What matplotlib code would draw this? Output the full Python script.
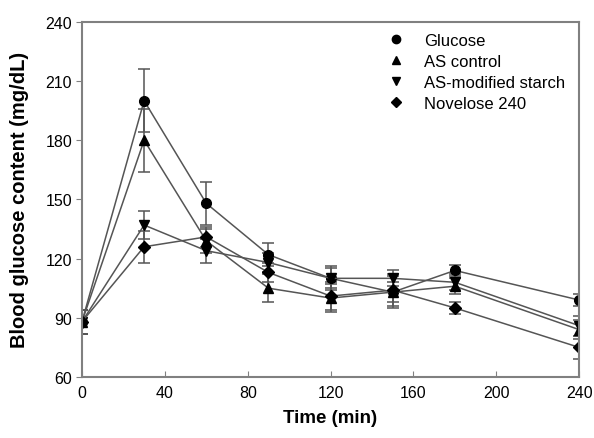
import numpy as np
import matplotlib.pyplot as plt
from matplotlib.lines import Line2D

plt.rcParams['font.family'] = ['Liberation Sans', 'DejaVu Sans']

# Time points (min)
time = [0, 30, 60, 90, 120, 150, 180, 240]

# Blood glucose means (mg/dL)
glucose = [88, 200, 148, 122, 110, 103, 114, 99]
as_control = [88, 180, 129, 105, 100, 103, 106, 84]
as_modified = [88, 137, 124, 118, 110, 110, 108, 86]
novelose = [88, 126, 131, 113, 101, 104, 95, 75]

# Error bars (SD)
glucose_err = [6, 16, 11, 6, 6, 5, 3, 3]
as_control_err = [6, 16, 6, 7, 7, 8, 4, 5]
as_modified_err = [6, 7, 6, 5, 5, 4, 4, 5]
novelose_err = [6, 8, 5, 5, 7, 8, 3, 6]

series = [
    ('Glucose', glucose, glucose_err, 'o'),
    ('AS control', as_control, as_control_err, '^'),
    ('AS-modified starch', as_modified, as_modified_err, 'v'),
    ('Novelose 240', novelose, novelose_err, 'D'),
]

fig, ax = plt.subplots(figsize=(5.94, 4.39), dpi=100)
fig.subplots_adjust(left=0.138, right=0.975, top=0.948, bottom=0.139)

handles = []
for name, vals, err, m in series:
    ms = 7 if m != 'D' else 6
    ax.errorbar(time, vals, yerr=err, color='#555555', lw=1.1,
                elinewidth=1.1, capsize=4, capthick=1.1,
                marker=m, markersize=ms,
                markerfacecolor='black', markeredgecolor='black')
    handles.append(Line2D([], [], ls='none', marker=m, markersize=ms - 1,
                          color='black', label=name))

ax.set_xlim(0, 240)
ax.set_ylim(60, 240)
ax.set_xticks(np.arange(0, 241, 40))
ax.set_yticks(np.arange(60, 241, 30))
ax.tick_params(axis='x', direction='in', length=4, color='#808080', labelsize=11.5, pad=6)
ax.tick_params(axis='y', direction='out', length=4, color='#808080', labelsize=11.5, pad=3)
for s in ax.spines.values():
    s.set_color('#808080')
    s.set_linewidth(1.5)

ax.set_xlabel('Time (min)', fontsize=13.5, fontweight='bold', labelpad=6)
ax.set_ylabel('Blood glucose content (mg/dL)', fontsize=14.5, fontweight='bold', labelpad=12)

ax.legend(handles=handles, loc='upper left', frameon=False, fontsize=12,
          bbox_to_anchor=(0.585, 1.01), handlelength=1.0, labelspacing=0.35,
          handletextpad=1.2)

fig.savefig('out.png', dpi=100)
